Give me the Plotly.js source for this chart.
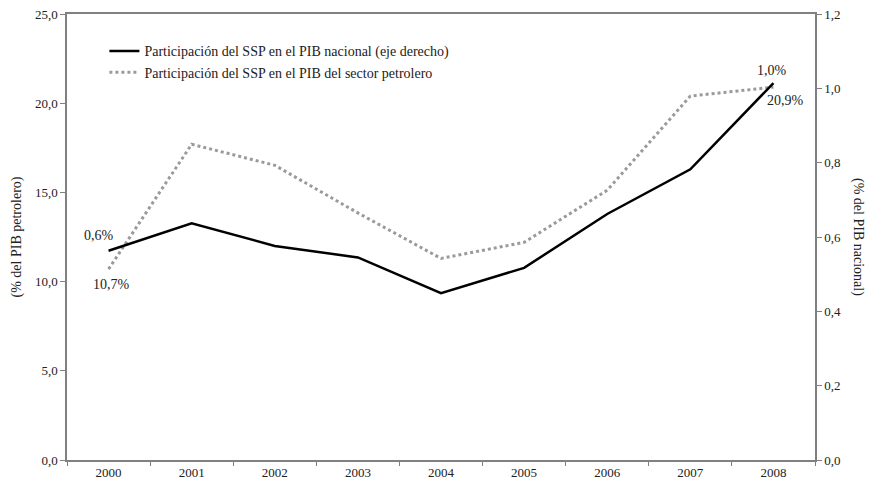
<!DOCTYPE html>
<html>
<head>
<meta charset="utf-8">
<script src="https://cdn.plot.ly/plotly-3.0.1.min.js"></script>
<style>
  html, body { margin: 0; padding: 0; background: #fff; }
  #chart { width: 869px; height: 486px; }
</style>
</head>
<body>
<div id="chart"></div>
<script>
// years on the category axis
const years = ["2000", "2001", "2002", "2003", "2004", "2005", "2006", "2007", "2008"];

// share of SSP in national GDP (right axis)
const nacional = [0.563, 0.637, 0.576, 0.545, 0.449, 0.517, 0.662, 0.782, 1.014];
// share of SSP in oil sector GDP (left axis)
const petrolero = [10.7, 17.7, 16.52, 13.85, 11.3, 12.2, 15.12, 20.4, 20.9];

const nameNacional = "Participación del SSP en el PIB nacional (eje derecho)";
const namePetrolero = "Participación del SSP en el PIB del sector petrolero";

const fontFamily = "Liberation Serif";

function pct(v) {
  return v.toFixed(1).replace(".", ",") + "%";
}

const last = years.length - 1;

// value labels on the first and last points, nudged like the original
// (x is the category index, a year string would be read as a position)
function pointLabel(i, values, yref, dx, dy) {
  return {
    x: i,
    y: values[i],
    xref: "x",
    yref: yref,
    text: pct(values[i]),
    showarrow: false,
    xshift: dx,
    yshift: dy,
    font: { family: fontFamily, size: 14, color: "#222" },
  };
}

const data = [
  {
    x: years,
    y: nacional,
    yaxis: "y2",
    name: nameNacional,
    type: "scatter",
    mode: "lines",
    line: { color: "#000000", width: 2.5 },
  },
  {
    x: years,
    y: petrolero,
    name: namePetrolero,
    type: "scatter",
    mode: "lines",
    line: { color: "#9a9a9a", width: 3, dash: "dot" },
  },
];

const axisColor = "#808080";

const layout = {
  width: 869,
  height: 486,
  margin: { l: 66.5, r: 54, t: 13.5, b: 25.6 },
  paper_bgcolor: "#ffffff",
  plot_bgcolor: "#ffffff",
  separators: ",.",
  font: { family: fontFamily, size: 13, color: "#222" },
  showlegend: true,
  legend: {
    x: 0.05,
    y: 0.952,
    xanchor: "left",
    yanchor: "top",
    bgcolor: "rgba(0,0,0,0)",
    font: { family: fontFamily, size: 14, color: "#222" },
    tracegroupgap: 0,
  },
  xaxis: {
    type: "category",
    range: [-0.5, last + 0.5],
    tickson: "boundaries",
    ticks: "outside",
    ticklen: 4,
    tickcolor: axisColor,
    showline: true,
    linecolor: axisColor,
    linewidth: 1.5,
    mirror: true,
    showgrid: false,
    zeroline: false,
    automargin: false,
    tickfont: { family: fontFamily, size: 13 },
  },
  yaxis: {
    range: [0, 25],
    dtick: 5,
    tickformat: ".1f",
    ticks: "outside",
    ticklen: 5,
    tickcolor: axisColor,
    showline: true,
    linecolor: axisColor,
    linewidth: 1.5,
    showgrid: false,
    zeroline: false,
    automargin: false,
    tickfont: { family: fontFamily, size: 13 },
    title: { text: "(% del PIB petrolero)", font: { family: fontFamily, size: 14 }, standoff: 10 },
  },
  yaxis2: {
    overlaying: "y",
    side: "right",
    range: [0, 1.2],
    dtick: 0.2,
    tickformat: ".1f",
    ticks: "outside",
    ticklen: 5,
    tickcolor: axisColor,
    showline: true,
    linecolor: axisColor,
    linewidth: 1.5,
    showgrid: false,
    zeroline: false,
    automargin: false,
    tickfont: { family: fontFamily, size: 13 },
  },
  annotations: [
    pointLabel(0, nacional, "y2", -10, 15),
    pointLabel(0, petrolero, "y", 3, -15),
    pointLabel(last, nacional, "y2", -1, 13),
    pointLabel(last, petrolero, "y", 12, -13),
    {
      // right axis title reads top to bottom
      text: "(% del PIB nacional)",
      xref: "paper",
      yref: "paper",
      x: 1,
      y: 0.5,
      xanchor: "center",
      yanchor: "middle",
      xshift: 43,
      textangle: 90,
      showarrow: false,
      font: { family: fontFamily, size: 14, color: "#222" },
    },
  ],
};

Plotly.newPlot("chart", data, layout, { displayModeBar: false, responsive: false });
</script>
</body>
</html>
